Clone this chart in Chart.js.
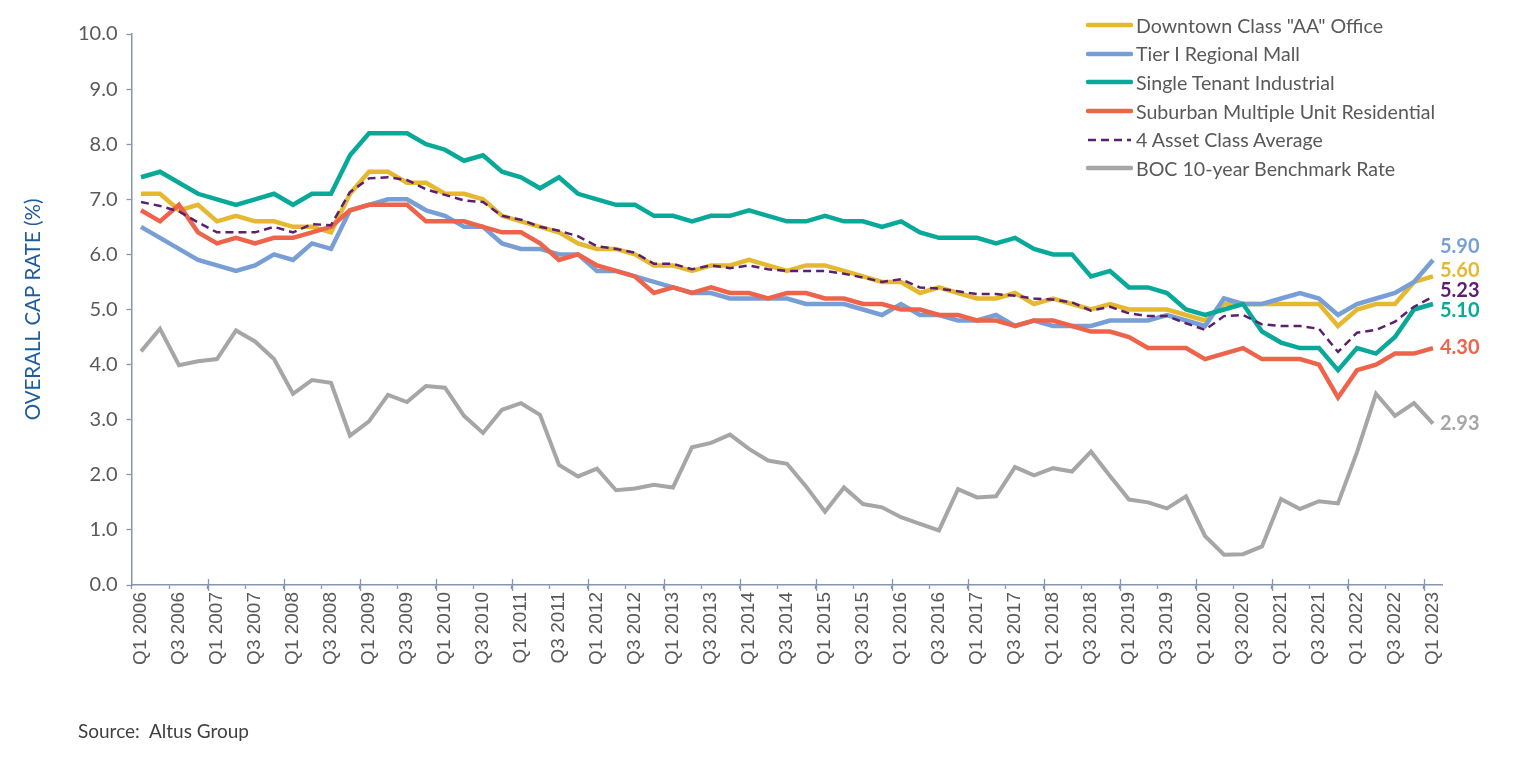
<!DOCTYPE html>
<html>
<head>
<meta charset="utf-8">
<script src="https://cdn.jsdelivr.net/npm/chart.js@4.4.1/dist/chart.umd.min.js"></script>
<style>
  html, body { margin: 0; padding: 0; background: #ffffff; }
  #wrap { position: relative; width: 1513px; height: 767px; overflow: hidden; }
  #c { position: absolute; left: 0; top: 0; }
  #legend { position: absolute; left: 1085px; top: 11px; font-family: Lato, sans-serif; font-size: 19.6px; color: #595959; }
  #legend .row { display: flex; align-items: center; height: 28.6px; white-space: nowrap; }
  #legend svg { margin-right: 3px; }
  #source { position: absolute; left: 78px; top: 719px; font-family: Lato, sans-serif; font-size: 19px; line-height: 24px; color: #404040; white-space: pre; }
</style>
</head>
<body>
<div id="wrap">
  <canvas id="c" width="1513" height="767"></canvas>
  <div id="legend"></div>
  <div id="source">Source:  Altus Group</div>
</div>
<script>
const quarters = [
  "Q1 2006","Q2 2006","Q3 2006","Q4 2006","Q1 2007","Q2 2007","Q3 2007","Q4 2007",
  "Q1 2008","Q2 2008","Q3 2008","Q4 2008","Q1 2009","Q2 2009","Q3 2009","Q4 2009",
  "Q1 2010","Q2 2010","Q3 2010","Q4 2010","Q1 2011","Q2 2011","Q3 2011","Q4 2011",
  "Q1 2012","Q2 2012","Q3 2012","Q4 2012","Q1 2013","Q2 2013","Q3 2013","Q4 2013",
  "Q1 2014","Q2 2014","Q3 2014","Q4 2014","Q1 2015","Q2 2015","Q3 2015","Q4 2015",
  "Q1 2016","Q2 2016","Q3 2016","Q4 2016","Q1 2017","Q2 2017","Q3 2017","Q4 2017",
  "Q1 2018","Q2 2018","Q3 2018","Q4 2018","Q1 2019","Q2 2019","Q3 2019","Q4 2019",
  "Q1 2020","Q2 2020","Q3 2020","Q4 2020","Q1 2021","Q2 2021","Q3 2021","Q4 2021",
  "Q1 2022","Q2 2022","Q3 2022","Q4 2022","Q1 2023"
];

const officeAA = [
  7.1,7.1,6.8,6.9,6.6,6.7,6.6,6.6,6.5,6.5,6.4,7.1,7.5,7.5,7.3,7.3,7.1,
  7.1,7.0,6.7,6.6,6.5,6.4,6.2,6.1,6.1,6.0,5.8,5.8,5.7,5.8,5.8,5.9,5.8,
  5.7,5.8,5.8,5.7,5.6,5.5,5.5,5.3,5.4,5.3,5.2,5.2,5.3,5.1,5.2,5.1,5.0,
  5.1,5.0,5.0,5.0,4.9,4.8,5.1,5.1,5.1,5.1,5.1,5.1,4.7,5.0,5.1,5.1,5.5,5.6
];
const regionalMall = [
  6.5,6.3,6.1,5.9,5.8,5.7,5.8,6.0,5.9,6.2,6.1,6.8,6.9,7.0,7.0,6.8,6.7,
  6.5,6.5,6.2,6.1,6.1,6.0,6.0,5.7,5.7,5.6,5.5,5.4,5.3,5.3,5.2,5.2,5.2,
  5.2,5.1,5.1,5.1,5.0,4.9,5.1,4.9,4.9,4.8,4.8,4.9,4.7,4.8,4.7,4.7,4.7,
  4.8,4.8,4.8,4.9,4.8,4.7,5.2,5.1,5.1,5.2,5.3,5.2,4.9,5.1,5.2,5.3,5.5,5.9
];
const industrial = [
  7.4,7.5,7.3,7.1,7.0,6.9,7.0,7.1,6.9,7.1,7.1,7.8,8.2,8.2,8.2,8.0,7.9,
  7.7,7.8,7.5,7.4,7.2,7.4,7.1,7.0,6.9,6.9,6.7,6.7,6.6,6.7,6.7,6.8,6.7,
  6.6,6.6,6.7,6.6,6.6,6.5,6.6,6.4,6.3,6.3,6.3,6.2,6.3,6.1,6.0,6.0,5.6,
  5.7,5.4,5.4,5.3,5.0,4.9,5.0,5.1,4.6,4.4,4.3,4.3,3.9,4.3,4.2,4.5,5.0,5.1
];
const residential = [
  6.8,6.6,6.9,6.4,6.2,6.3,6.2,6.3,6.3,6.4,6.5,6.8,6.9,6.9,6.9,6.6,6.6,
  6.6,6.5,6.4,6.4,6.2,5.9,6.0,5.8,5.7,5.6,5.3,5.4,5.3,5.4,5.3,5.3,5.2,
  5.3,5.3,5.2,5.2,5.1,5.1,5.0,5.0,4.9,4.9,4.8,4.8,4.7,4.8,4.8,4.7,4.6,
  4.6,4.5,4.3,4.3,4.3,4.1,4.2,4.3,4.1,4.1,4.1,4.0,3.4,3.9,4.0,4.2,4.2,4.3
];
const classAverage = [
  6.95,6.88,6.78,6.58,6.40,6.40,6.40,6.50,6.40,6.55,6.53,7.13,7.38,7.40,7.35,7.18,7.08,
  6.98,6.95,6.70,6.63,6.50,6.43,6.33,6.15,6.10,6.03,5.83,5.83,5.73,5.80,5.75,5.80,5.73,
  5.70,5.70,5.70,5.65,5.58,5.50,5.55,5.40,5.38,5.33,5.28,5.28,5.25,5.20,5.18,5.13,4.98,
  5.05,4.93,4.88,4.88,4.75,4.63,4.88,4.90,4.73,4.70,4.70,4.65,4.23,4.58,4.63,4.78,5.05,5.23
];
const bocBenchmark = [
  4.24,4.65,3.99,4.06,4.10,4.62,4.42,4.10,3.47,3.72,3.67,2.71,2.97,3.45,3.32,3.61,3.58,
  3.07,2.76,3.18,3.30,3.09,2.18,1.97,2.11,1.72,1.75,1.82,1.77,2.50,2.58,2.73,2.47,2.26,
  2.20,1.79,1.33,1.77,1.47,1.41,1.23,1.11,0.99,1.74,1.59,1.61,2.14,1.99,2.12,2.06,2.42,
  1.98,1.55,1.50,1.39,1.61,0.89,0.55,0.56,0.70,1.56,1.38,1.52,1.48,2.41,3.47,3.07,3.30,2.93
];

const seriesNames = [
  'Downtown Class "AA" Office',
  'Tier I Regional Mall',
  'Single Tenant Industrial',
  'Suburban Multiple Unit Residential',
  '4 Asset Class Average',
  'BOC 10-year Benchmark Rate'
];
const yTickValues = [0,1,2,3,4,5,6,7,8,9,10];

const COLORS = {
  gold: '#E5B830', blue: '#779FD5', teal: '#09A99A', red: '#EE644B', purple: '#5C1F6F', gray: '#A6A6A6'
};
const AXIS = '#8796B0';

function ds(label, data, color, width, order, dash, endDy) {
  return {
    label, data, borderColor: color, backgroundColor: color, borderWidth: width,
    borderDash: dash || [], pointRadius: 0, pointHoverRadius: 0, tension: 0,
    fill: false, order, endDy, borderJoinStyle: 'miter', borderCapStyle: 'butt'
  };
}

const datasets = [
  ds(seriesNames[0], officeAA, COLORS.gold, 4.5, 5, null, -6),
  ds(seriesNames[1], regionalMall, COLORS.blue, 4.5, 4, null, -13),
  ds(seriesNames[2], industrial, COLORS.teal, 4.5, 3, null, 7),
  ds(seriesNames[3], residential, COLORS.red, 4.5, 2, null, -1),
  ds(seriesNames[4], classAverage, COLORS.purple, 2.5, 1, [8,5], -6),
  ds(seriesNames[5], bocBenchmark, COLORS.gray, 4, 6, null, 0)
];

const endLabels = {
  id: 'endLabels',
  afterDatasetsDraw(chart) {
    const ctx = chart.ctx;
    ctx.save();
    ctx.font = 'bold 20px Lato, sans-serif';
    ctx.textAlign = 'left';
    ctx.textBaseline = 'middle';
    chart.data.datasets.forEach((d, i) => {
      const meta = chart.getDatasetMeta(i);
      const last = meta.data[meta.data.length - 1];
      const v = d.data[d.data.length - 1];
      ctx.fillStyle = d.borderColor;
      ctx.fillText(v.toFixed(2), last.x + 7, last.y + d.endDy);
    });
    ctx.restore();
  }
};

const yearTicks = {
  id: 'yearTicks',
  afterDraw(chart) {
    const x = chart.scales.x;
    const ctx = chart.ctx;
    const step = x.getPixelForValue(1) - x.getPixelForValue(0);
    ctx.save();
    ctx.strokeStyle = AXIS;
    ctx.lineWidth = 1.3;
    for (let k = 4; k < quarters.length; k += 4) {
      const px = Math.round(x.getPixelForValue(k) - step / 2) + 0.5;
      ctx.beginPath();
      ctx.moveTo(px, x.top - 6);
      ctx.lineTo(px, x.top + 6);
      ctx.stroke();
    }
    ctx.restore();
  }
};

function build() {
  const chart = new Chart(document.getElementById('c'), {
    type: 'line',
    data: { labels: quarters, datasets },
    plugins: [endLabels, yearTicks],
    options: {
      responsive: false,
      animation: false,
      events: [],
      layout: { padding: { left: 0, right: 70.5, top: 34, bottom: 82 } },
      plugins: { legend: { display: false }, tooltip: { enabled: false } },
      scales: {
        x: {
          type: 'category',
          offset: true,
          grid: {
            offset: true, drawOnChartArea: false, drawTicks: true, tickLength: 4,
            tickWidth: 1.3,
            tickColor: (c) => (typeof c.index === 'number' && c.index % 2 === 0) ? AXIS : 'rgba(0,0,0,0)'
          },
          border: { color: AXIS, width: 1.5 },
          ticks: {
            autoSkip: false, minRotation: 90, maxRotation: 90, padding: 3,
            color: '#595959',
            font: { family: '"Liberation Sans", Arial, sans-serif', size: 19 },
            callback: function (v, i) { return i % 2 === 0 ? this.getLabelForValue(v) : ''; }
          },
          afterFit: (s) => { s.height = 100; }
        },
        y: {
          min: 0, max: 10,
          afterBuildTicks: (s) => { s.ticks = yTickValues.map(v => ({ value: v })); },
          grid: { drawOnChartArea: false, drawTicks: true, tickLength: 5, tickColor: AXIS, tickWidth: 1.3 },
          border: { color: AXIS, width: 1.5 },
          ticks: {
            padding: 9, color: '#595959',
            font: { family: 'Lato, sans-serif', size: 20 },
            callback: (v) => Number(v).toFixed(1)
          },
          title: {
            display: true, text: 'OVERALL CAP RATE (%)', color: '#1F5C9E',
            font: { family: 'Lato, sans-serif', size: 20.5 },
            padding: { top: 21, bottom: 0 }
          },
          afterFit: (s) => { s.width = 131.5; }
        }
      }
    }
  });

  const legend = document.getElementById('legend');
  chart.data.datasets.forEach((d) => {
    const row = document.createElement('div');
    row.className = 'row';
    const dash = d.borderDash && d.borderDash.length ? d.borderDash.join(',') : '';
    const w = d.borderDash && d.borderDash.length ? 2.5 : 4.5;
    row.innerHTML =
      '<svg width="48" height="10"><line x1="3" y1="5" x2="46" y2="5" stroke="' + d.borderColor +
      '" stroke-width="' + w + '" stroke-linecap="' + (dash ? 'butt' : 'round') + '"' +
      (dash ? ' stroke-dasharray="' + dash + '"' : '') + '/></svg>';
    const span = document.createElement('span');
    span.textContent = d.label;
    row.appendChild(span);
    legend.appendChild(row);
  });
}

Promise.all([
  document.fonts.load('20px Lato'),
  document.fonts.load('bold 20px Lato'),
  document.fonts.load('19px "Liberation Sans"')
]).catch(() => {}).then(build);
</script>
</body>
</html>
